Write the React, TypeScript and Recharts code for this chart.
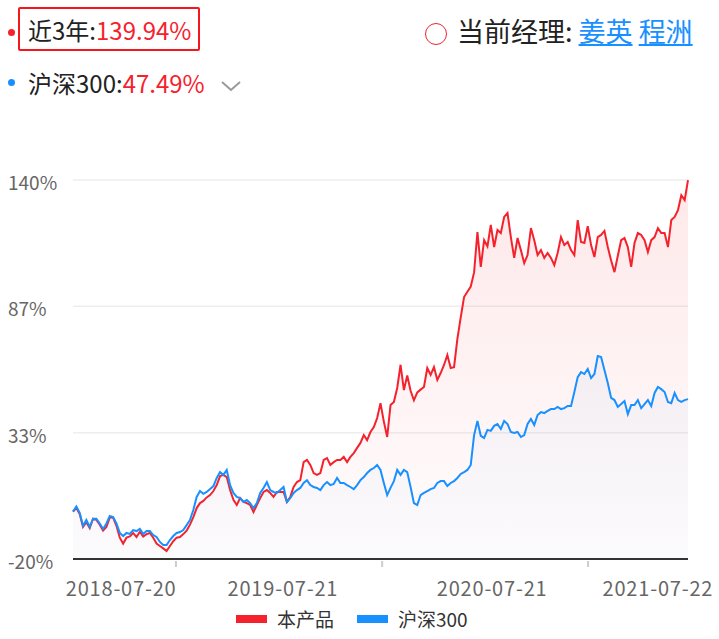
import { ComposedChart, Area, XAxis, YAxis, CartesianGrid } from "recharts"

const FONT = '"Noto Sans CJK SC", "Noto Sans", sans-serif'
const RED = "#f5222d"
const BLUE = "#1890ff"

const seriesNames = ["本产品", "沪深300"]
const seriesColors = [RED, BLUE]

// 近3年累计收益 (%), 本产品
const productValues = [
  0, 1.5, -1, -6.5, -4.5, -7, -3, -3.5, -5.5, -8,
  -6.5, -2.5, -2.5, -6, -11, -13.5, -11, -10.5, -9, -10.7,
  -8.5, -10.5, -9.5, -9, -11, -13.5, -14.5, -15.5, -16.6, -14.5,
  -12.5, -11, -10.7, -9.5, -8, -5.5, -2.3, 1.5, 3.6, 4.5,
  6, 7, 8.7, 11.2, 15, 15.5, 14.6, 9.1, 5, 2.8,
  5.7, 4.1, 3.6, 2.8, -0.2, 2.8, 5.7, 8.3, 9.1, 7.9,
  6.2, 8.3, 8.3, 8.3, 4.1, 6.2, 10.4, 12.5, 13.3, 20.9,
  21.8, 19.7, 16.3, 15.5, 16.3, 21.8, 22.6, 19.7, 20.9, 21.8,
  21.8, 23.1, 20.9, 23.1, 24.7, 26.9, 29, 32.3, 30.2, 33.6,
  35.7, 39.5, 45.8, 38, 31.5, 45, 46.3, 52.2, 62, 51.3,
  57.5, 51, 47, 50.3, 51.5, 52.6, 60.6, 57.7, 61, 55.6,
  58.5, 61.9, 66.1, 60.6, 61, 72.9, 82, 90.6, 92.8, 95,
  101, 118, 103.3, 114.6, 112, 121, 111.7, 118.9, 117.6, 124.4,
  126, 115.9, 107.1, 115.5, 110.4, 104.9, 108.3, 119.7, 114.6, 108.3,
  110.4, 107.1, 109.2, 107.1, 104.1, 109.2, 115.9, 112.5, 113.8, 110.4,
  108.3, 123.1, 113.8, 113.4, 120.5, 112.5, 107.5, 115.9, 116.8, 118.5,
  111.7, 106, 101.1, 108, 114.6, 115.5, 111.7, 103.3, 113.4, 117.6,
  116.8, 114.6, 109.6, 114.6, 115.9, 119.7, 117.6, 117.6, 111.7, 123.1,
  124.4, 127.3, 133.6, 131.5, 139.94,
]

// 沪深300 (%)
const indexValues = [
  0, 2.2, -0.5, -6, -3.5, -6.5, -3, -3, -5, -7.3,
  -5, -1.8, -2.3, -5, -9, -10.3, -9, -9.4, -7.8, -8.2,
  -7.3, -9.4, -8.2, -8.2, -9.9, -10.7, -12.8, -14.1, -14.1, -12,
  -10.3, -9, -8.6, -7.8, -5.7, -3.5, 0.7, 6.2, 8.7, 7.5,
  8.3, 9.5, 10.8, 14.2, 16.7, 15.5, 17.6, 11.2, 7.9, 6.2,
  5.7, 4.1, 4.9, 3.6, 1.5, 3.6, 7.9, 10, 12.5, 9.1,
  8.3, 7.9, 9.1, 10.4, 4.1, 5.7, 7.9, 9.1, 10, 12.1,
  13.3, 11.2, 10.4, 10, 9.1, 11.2, 12.5, 11.2, 11.7, 14.2,
  12.1, 12.1, 11.2, 10.4, 9.5, 11.2, 13.3, 14.6, 16.3, 17.6,
  18.4, 19.7, 17.6, 12.1, 7, 10, 12.9, 17.6, 15.5, 17.6,
  16.7, 10.4, 3.6, 2.8, 7, 7.9, 8.7, 9.5, 10, 12.1,
  12.9, 12.9, 10.8, 12.1, 12.9, 14.2, 15.9, 16.7, 17.6, 19.7,
  32.3, 38.3, 32, 31.1, 34.5, 34.1, 36.2, 37, 34.9, 38.3,
  37, 33.6, 33.2, 33.6, 31.5, 32.3, 37, 39.1, 36.6, 40.8,
  42, 41.6, 42.5, 43.3, 43.3, 44.2, 43.3, 43.7, 44.6, 44.6,
  50.5, 56.8, 58.9, 58.1, 60.2, 56.4, 58.1, 65.7, 65.3, 59.8,
  54.3, 48, 47.1, 44.2, 45.4, 46.7, 41.2, 45, 45, 47.1,
  43.7, 45.4, 47.1, 44.6, 50.1, 52.6, 51.7, 50.5, 46.3, 45.8,
  50.1, 47.1, 46.3, 47.1, 47.49,
]

const dateTicks = [14.4, 62.8, 125.4, 175]
const dateLabels = ["2018-07-20", "2019-07-21", "2020-07-21", "2021-07-22"]
const minorTicks = [30.8, 92.5, 154.1]
const yTicks = [-20, 33.33, 86.67, 140]

const data = productValues.map((v, i) => ({ t: i, product: v, index: indexValues[i] }))

function XTick({ x, y, payload }: any) {
  const idx = dateTicks.indexOf(payload.value)
  if (idx >= 0) {
    return (
      <text x={x} y={y} dy={29} textAnchor="middle" fill="#666" fontSize={20} letterSpacing={0.8} fontFamily={FONT}>
        {dateLabels[idx]}
      </text>
    )
  }
  return <line x1={x} x2={x} y1={y - 6} y2={y} stroke="#ccc" strokeWidth={2} />
}

function YTick({ y, payload }: any) {
  return (
    <text x={8} y={y} dy={10} textAnchor="start" fill="#666" fontSize={19} fontFamily={FONT}>
      {Math.round(payload.value)}%
    </text>
  )
}

export default function App() {
  return (
    <div style={{ position: "absolute", left: 0, top: 0, width: 719, height: 639, background: "#fff", fontFamily: FONT, color: "#222" }}>
      {/* header row 1 */}
      <div style={{ position: "absolute", left: 8, top: 28.5, width: 7, height: 7, borderRadius: "50%", background: RED }} />
      <div style={{ position: "absolute", left: 18, top: 7, width: 182, height: 44, boxSizing: "border-box", border: "2px solid #f5171d", borderRadius: 2 }} />
      <div style={{ position: "absolute", left: 28, top: 18, fontSize: 24, lineHeight: "24px", whiteSpace: "nowrap" }}>
        近3年:<span style={{ color: RED }}>139.94%</span>
      </div>
      <div style={{ position: "absolute", left: 425, top: 23, width: 22, height: 22, boxSizing: "border-box", borderRadius: "50%", border: `1.5px solid ${RED}` }} />
      <div style={{ position: "absolute", left: 457, top: 17, fontSize: 27, lineHeight: "27px", whiteSpace: "nowrap", color: "#222" }}>
        当前经理: <span style={{ color: BLUE, textDecoration: "underline" }}>姜英</span>{" "}
        <span style={{ color: BLUE, textDecoration: "underline" }}>程洲</span>
      </div>
      {/* header row 2 */}
      <div style={{ position: "absolute", left: 8, top: 78.5, width: 7, height: 7, borderRadius: "50%", background: BLUE }} />
      <div style={{ position: "absolute", left: 28, top: 71, fontSize: 24, lineHeight: "24px", whiteSpace: "nowrap" }}>
        沪深300:<span style={{ color: RED }}>47.49%</span>
      </div>
      <svg style={{ position: "absolute", left: 220, top: 78 }} width={22} height={14}>
        <polyline points="2,4 11,12 20,4" fill="none" stroke="#999" strokeWidth={2} />
      </svg>

      <div style={{ position: "absolute", left: 0, top: 0 }}>
        <ComposedChart width={719} height={639} data={data} margin={{ top: 180, right: 31, bottom: 39, left: 0 }}>
          <defs>
            <linearGradient id="gradProduct" x1="0" y1="0" x2="0" y2="1">
              <stop offset="0%" stopColor={RED} stopOpacity={0.17} />
              <stop offset="100%" stopColor={RED} stopOpacity={0.02} />
            </linearGradient>
            <linearGradient id="gradIndex" x1="0" y1="0" x2="0" y2="1">
              <stop offset="0%" stopColor={BLUE} stopOpacity={0.08} />
              <stop offset="100%" stopColor={BLUE} stopOpacity={0.02} />
            </linearGradient>
          </defs>
          <CartesianGrid vertical={false} stroke="#eeeeee" strokeWidth={1.5} />
          <XAxis
            dataKey="t"
            type="number"
            domain={[0, productValues.length - 1]}
            ticks={[...dateTicks, ...minorTicks].sort((a, b) => a - b)}
            interval={0}
            height={41}
            tickLine={false}
            tickSize={6}
            tickMargin={2}
            axisLine={{ stroke: "#333", strokeWidth: 2 }}
            tick={<XTick />}
          />
          <YAxis
            type="number"
            domain={[-20, 140]}
            ticks={yTicks}
            interval={0}
            width={73}
            axisLine={false}
            tickLine={false}
            tick={<YTick />}
          />
          <Area
            type="linear"
            dataKey="product"
            name={seriesNames[0]}
            stroke={RED}
            strokeWidth={2}
            fill="url(#gradProduct)"
            baseValue="dataMin"
            dot={false}
            activeDot={false}
            isAnimationActive={false}
          />
          <Area
            type="linear"
            dataKey="index"
            name={seriesNames[1]}
            stroke={BLUE}
            strokeWidth={2}
            fill="url(#gradIndex)"
            baseValue="dataMin"
            dot={false}
            activeDot={false}
            isAnimationActive={false}
          />
        </ComposedChart>
      </div>

      {/* legend */}
      {seriesNames.map((name, i) => (
        <div key={name} style={{ position: "absolute", left: i === 0 ? 236 : 357, top: 606, display: "flex", alignItems: "center", whiteSpace: "nowrap" }}>
          <div style={{ width: 31, height: 8, background: seriesColors[i], marginRight: 10 }} />
          <span style={{ fontSize: 19, lineHeight: "26px", color: "#333" }}>{name}</span>
        </div>
      ))}
    </div>
  )
}
